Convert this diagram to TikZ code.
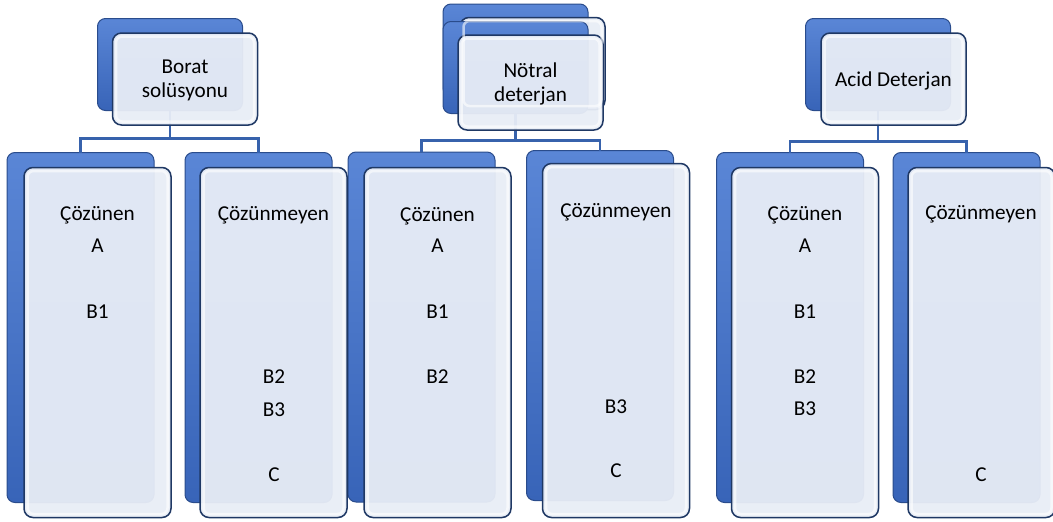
\documentclass[tikz,border=0pt]{standalone}
\usepackage{fontspec}
\setmainfont{Carlito}
\usetikzlibrary{positioning}

\definecolor{backtop}{HTML}{5A86D6}
\definecolor{backbot}{HTML}{3864B8}
\definecolor{backedge}{HTML}{2A4C8C}
\definecolor{frontedge}{HTML}{1F3864}
\definecolor{frontfill}{HTML}{E8EDF6}
\definecolor{linkblue}{HTML}{3762AC}

\tikzset{
  backbox/.style={draw=backedge, line width=1pt, top color=backtop, bottom color=backbot, rounded corners=8pt},
  frontbox/.style={draw=frontedge, line width=1.5pt, fill=frontfill, fill opacity=0.95, rounded corners=9pt},
  rim/.style={draw=white, line width=2.5pt, rounded corners=6pt, opacity=0.6},
  link/.style={draw=linkblue, line width=2.2pt},
  lbl/.style={font=\fontsize{21.2}{24}\selectfont, anchor=base, text=black},
  parent/.style={minimum width=145pt, minimum height=92pt},
  child/.style={minimum width=147pt, minimum height=350pt}
}

\begin{document}
\begin{tikzpicture}[x=1pt, y=-1pt, every node/.style={inner sep=0pt, outer sep=0pt}]
  \useasboundingbox (0,0) rectangle (1053,522);

  % back boxes
  \node (p1b) at (170,64.5) [backbox, parent] {};
  \node (c1lb) at (80.5,327.5) [backbox, child] {};
  \node (c1rb) at (258.5,327.5) [backbox, child] {};

  \node (p2b1) at (515.5,50) [backbox, parent] {};
  \node (p2f1) at (532.5,63.5) [frontbox, parent] {};
  \node (p2b) at (515.5,67.5) [backbox, parent] {};
  \node (c2lb) at (421.5,327) [backbox, child] {};
  \node (c2rb) at (600,325.5) [backbox, child] {};

  \node (p3b) at (878,64.5) [backbox, parent] {};
  \node (c3lb) at (790,327.5) [backbox, child] {};
  \node (c3rb) at (966.5,327.5) [backbox, child] {};

  % connectors
  \draw[link] (p1b.south) -- ++(0,28) coordinate (bus1);
  \draw[link] (c1lb.north) |- (bus1) -| (c1rb.north);
  \draw[link] (p2b.south) -- ++(0,27) coordinate (bus2);
  \draw[link] (c2lb.north) |- (bus2) -| (c2rb.north);
  \draw[link] (p3b.south) -- ++(0,31) coordinate (bus3);
  \draw[link] (c3lb.north) |- (bus3) -| (c3rb.north);

  % front boxes
  \node (p1f) at (185,79) [frontbox, parent] {};
  \node (c1lf) at (97.5,342.5) [frontbox, child] {};
  \node (c1rf) at (273.5,342.5) [frontbox, child] {};
  \node (p2f) at (530.5,82.5) [frontbox, parent, minimum height=95pt] {};
  \node (c2lf) at (437.5,342.5) [frontbox, child] {};
  \node (c2rf) at (616,340.5) [frontbox, child, minimum height=354pt] {};
  \node (p3f) at (893.5,79) [frontbox, parent] {};
  \node (c3lf) at (805,342.5) [frontbox, child] {};
  \node (c3rf) at (981.5,342.5) [frontbox, child] {};

  \foreach \f in {p1f,c1lf,c1rf,p2f1,p2f,c2lf,c2rf,p3f,c3lf,c3rf}
    \draw[rim] ([xshift=3.5pt,yshift=-3.5pt]\f.north west) rectangle ([xshift=-3.5pt,yshift=3.5pt]\f.south east);

  % labels
  \node (borat) at (185,80) [lbl, anchor=center, align=center] {Borat\\solüsyonu};
  \node (notral) at (530.5,84) [lbl, anchor=center, align=center] {Nötral\\deterjan};
  \node (acid) at (893.5,86) [lbl] {Acid Deterjan};

  \node (t1l) at (97.5,220) [lbl] {Çözünen};
  \node (t1la) at (97.5,252) [lbl] {A};
  \node (t1lb1) at (97.5,318) [lbl] {B1};
  \node (t1r) at (273.5,220) [lbl] {Çözünmeyen};
  \node (t1rb2) at (274,383) [lbl] {B2};
  \node (t1rb3) at (274,416) [lbl] {B3};
  \node (t1rc) at (274,481) [lbl] {C};

  \node (t2l) at (437.5,221) [lbl] {Çözünen};
  \node (t2la) at (437.5,252) [lbl] {A};
  \node (t2lb1) at (437.5,318) [lbl] {B1};
  \node (t2lb2) at (437.5,383) [lbl] {B2};
  \node (t2r) at (616,217) [lbl] {Çözünmeyen};
  \node (t2rb3) at (616,413) [lbl] {B3};
  \node (t2rc) at (616,477) [lbl] {C};

  \node (t3l) at (805,220) [lbl] {Çözünen};
  \node (t3la) at (805,252) [lbl] {A};
  \node (t3lb1) at (805,318) [lbl] {B1};
  \node (t3lb2) at (805,383) [lbl] {B2};
  \node (t3lb3) at (805,415) [lbl] {B3};
  \node (t3r) at (981,219) [lbl] {Çözünmeyen};
  \node (t3rc) at (981,481) [lbl] {C};
\end{tikzpicture}
\end{document}
